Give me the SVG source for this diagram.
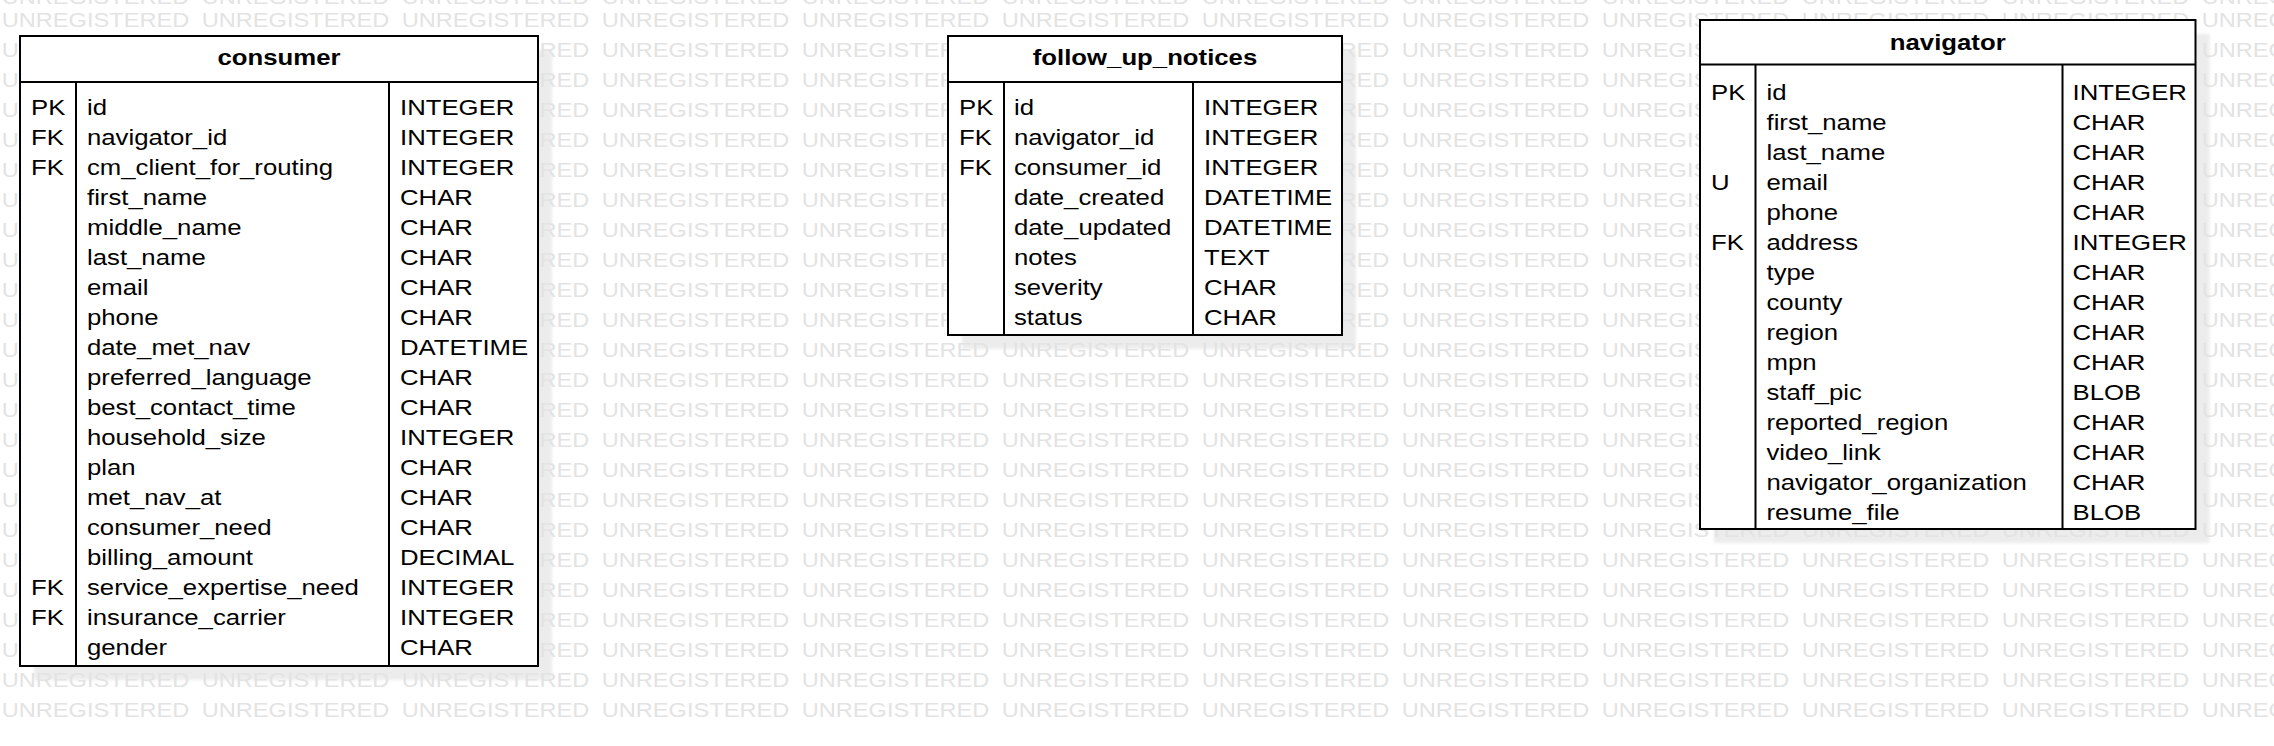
<svg xmlns="http://www.w3.org/2000/svg" xmlns:xlink="http://www.w3.org/1999/xlink" width="2274" height="746" viewBox="0 0 2274 746">
<style>
  text { font-family: "Liberation Sans", Arial, sans-serif; fill: #000; }
  .t { font-size: 22px; }
  .title { font-size: 22px; font-weight: bold; text-anchor: middle; }
  .wm text { font-size: 20.2px; fill: #e3e3e3; }
  .box { fill: #fff; stroke: #000; stroke-width: 2; }
  .ln { stroke: #000; stroke-width: 2; fill: none; }
  .sh { fill: #ececec; filter: url(#blur); }
</style>
<defs>
  <filter id="blur" x="-5%" y="-5%" width="110%" height="110%"><feGaussianBlur stdDeviation="1.5"/></filter>
  <g id="wmrow" class="wm" transform="scale(1.17 1)">
    <text x="1.45">UNREGISTERED</text>
    <text x="172.39">UNREGISTERED</text>
    <text x="343.33">UNREGISTERED</text>
    <text x="514.27">UNREGISTERED</text>
    <text x="685.21">UNREGISTERED</text>
    <text x="856.15">UNREGISTERED</text>
    <text x="1027.09">UNREGISTERED</text>
    <text x="1198.03">UNREGISTERED</text>
    <text x="1368.97">UNREGISTERED</text>
    <text x="1539.91">UNREGISTERED</text>
    <text x="1710.85">UNREGISTERED</text>
    <text x="1881.79">UNREGISTERED</text>
  </g>
</defs>
<rect x="0" y="0" width="2274" height="746" fill="#fff"/>
<g id="shadows">
  <rect class="sh" x="34" y="50" width="518" height="630"/>
  <rect class="sh" x="962" y="50" width="394" height="299"/>
  <rect class="sh" x="1714" y="34" width="495.5" height="509"/>
</g>
<g id="watermark">
  <use xlink:href="#wmrow" y="3.8"/>
  <use xlink:href="#wmrow" y="27.3"/>
  <use xlink:href="#wmrow" y="57.3"/>
  <use xlink:href="#wmrow" y="87.3"/>
  <use xlink:href="#wmrow" y="117.3"/>
  <use xlink:href="#wmrow" y="147.3"/>
  <use xlink:href="#wmrow" y="177.3"/>
  <use xlink:href="#wmrow" y="207.3"/>
  <use xlink:href="#wmrow" y="237.3"/>
  <use xlink:href="#wmrow" y="267.3"/>
  <use xlink:href="#wmrow" y="297.3"/>
  <use xlink:href="#wmrow" y="327.3"/>
  <use xlink:href="#wmrow" y="357.3"/>
  <use xlink:href="#wmrow" y="387.3"/>
  <use xlink:href="#wmrow" y="417.3"/>
  <use xlink:href="#wmrow" y="447.3"/>
  <use xlink:href="#wmrow" y="477.3"/>
  <use xlink:href="#wmrow" y="507.3"/>
  <use xlink:href="#wmrow" y="537.3"/>
  <use xlink:href="#wmrow" y="567.3"/>
  <use xlink:href="#wmrow" y="597.3"/>
  <use xlink:href="#wmrow" y="627.3"/>
  <use xlink:href="#wmrow" y="657.3"/>
  <use xlink:href="#wmrow" y="687.3"/>
  <use xlink:href="#wmrow" y="717.3"/>
</g>
<g id="connectors"></g>
<g id="consumer">
  <rect class="box" x="20" y="36" width="518" height="630"/>
  <line class="ln" x1="20" y1="82" x2="538" y2="82"/>
  <line class="ln" x1="76" y1="82" x2="76" y2="666"/>
  <line class="ln" x1="389" y1="82" x2="389" y2="666"/>
  <g transform="translate(279 0) scale(1.17 1)"><text class="title" x="0" y="65">consumer</text></g>
  <g transform="translate(31 0) scale(1.17 1)"><text class="t">
    <tspan x="0" y="115">PK</tspan><tspan x="0" y="145">FK</tspan><tspan x="0" y="175">FK</tspan>
    <tspan x="0" y="595">FK</tspan><tspan x="0" y="625">FK</tspan></text></g>
  <g transform="translate(87 0) scale(1.17 1)"><text class="t">
    <tspan x="0" y="115">id</tspan>
    <tspan x="0" y="145">navigator_id</tspan>
    <tspan x="0" y="175">cm_client_for_routing</tspan>
    <tspan x="0" y="205">first_name</tspan>
    <tspan x="0" y="235">middle_name</tspan>
    <tspan x="0" y="265">last_name</tspan>
    <tspan x="0" y="295">email</tspan>
    <tspan x="0" y="325">phone</tspan>
    <tspan x="0" y="355">date_met_nav</tspan>
    <tspan x="0" y="385">preferred_language</tspan>
    <tspan x="0" y="415">best_contact_time</tspan>
    <tspan x="0" y="445">household_size</tspan>
    <tspan x="0" y="475">plan</tspan>
    <tspan x="0" y="505">met_nav_at</tspan>
    <tspan x="0" y="535">consumer_need</tspan>
    <tspan x="0" y="565">billing_amount</tspan>
    <tspan x="0" y="595">service_expertise_need</tspan>
    <tspan x="0" y="625">insurance_carrier</tspan>
    <tspan x="0" y="655">gender</tspan></text></g>
  <g transform="translate(400 0) scale(1.17 1)"><text class="t">
    <tspan x="0" y="115">INTEGER</tspan>
    <tspan x="0" y="145">INTEGER</tspan>
    <tspan x="0" y="175">INTEGER</tspan>
    <tspan x="0" y="205">CHAR</tspan>
    <tspan x="0" y="235">CHAR</tspan>
    <tspan x="0" y="265">CHAR</tspan>
    <tspan x="0" y="295">CHAR</tspan>
    <tspan x="0" y="325">CHAR</tspan>
    <tspan x="0" y="355">DATETIME</tspan>
    <tspan x="0" y="385">CHAR</tspan>
    <tspan x="0" y="415">CHAR</tspan>
    <tspan x="0" y="445">INTEGER</tspan>
    <tspan x="0" y="475">CHAR</tspan>
    <tspan x="0" y="505">CHAR</tspan>
    <tspan x="0" y="535">CHAR</tspan>
    <tspan x="0" y="565">DECIMAL</tspan>
    <tspan x="0" y="595">INTEGER</tspan>
    <tspan x="0" y="625">INTEGER</tspan>
    <tspan x="0" y="655">CHAR</tspan></text></g>
</g>
<g id="follow_up_notices">
  <rect class="box" x="948" y="36" width="394" height="299"/>
  <line class="ln" x1="948" y1="82" x2="1342" y2="82"/>
  <line class="ln" x1="1004" y1="82" x2="1004" y2="335"/>
  <line class="ln" x1="1193" y1="82" x2="1193" y2="335"/>
  <g transform="translate(1145 0) scale(1.17 1)"><text class="title" x="0" y="65">follow_up_notices</text></g>
  <g transform="translate(959 0) scale(1.17 1)"><text class="t">
    <tspan x="0" y="115">PK</tspan><tspan x="0" y="145">FK</tspan><tspan x="0" y="175">FK</tspan></text></g>
  <g transform="translate(1014 0) scale(1.17 1)"><text class="t">
    <tspan x="0" y="115">id</tspan>
    <tspan x="0" y="145">navigator_id</tspan>
    <tspan x="0" y="175">consumer_id</tspan>
    <tspan x="0" y="205">date_created</tspan>
    <tspan x="0" y="235">date_updated</tspan>
    <tspan x="0" y="265">notes</tspan>
    <tspan x="0" y="295">severity</tspan>
    <tspan x="0" y="325">status</tspan></text></g>
  <g transform="translate(1204 0) scale(1.17 1)"><text class="t">
    <tspan x="0" y="115">INTEGER</tspan>
    <tspan x="0" y="145">INTEGER</tspan>
    <tspan x="0" y="175">INTEGER</tspan>
    <tspan x="0" y="205">DATETIME</tspan>
    <tspan x="0" y="235">DATETIME</tspan>
    <tspan x="0" y="265">TEXT</tspan>
    <tspan x="0" y="295">CHAR</tspan>
    <tspan x="0" y="325">CHAR</tspan></text></g>
</g>
<g id="navigator">
  <rect class="box" x="1700" y="20" width="495.5" height="509"/>
  <line class="ln" x1="1700" y1="64.5" x2="2195.5" y2="64.5"/>
  <line class="ln" x1="1755.5" y1="64.5" x2="1755.5" y2="529"/>
  <line class="ln" x1="2062.5" y1="64.5" x2="2062.5" y2="529"/>
  <g transform="translate(1947.75 0) scale(1.17 1)"><text class="title" x="0" y="50">navigator</text></g>
  <g transform="translate(1711 0) scale(1.17 1)"><text class="t">
    <tspan x="0" y="100">PK</tspan><tspan x="0" y="190">U</tspan><tspan x="0" y="250">FK</tspan></text></g>
  <g transform="translate(1766.5 0) scale(1.17 1)"><text class="t">
    <tspan x="0" y="100">id</tspan>
    <tspan x="0" y="130">first_name</tspan>
    <tspan x="0" y="160">last_name</tspan>
    <tspan x="0" y="190">email</tspan>
    <tspan x="0" y="220">phone</tspan>
    <tspan x="0" y="250">address</tspan>
    <tspan x="0" y="280">type</tspan>
    <tspan x="0" y="310">county</tspan>
    <tspan x="0" y="340">region</tspan>
    <tspan x="0" y="370">mpn</tspan>
    <tspan x="0" y="400">staff_pic</tspan>
    <tspan x="0" y="430">reported_region</tspan>
    <tspan x="0" y="460">video_link</tspan>
    <tspan x="0" y="490">navigator_organization</tspan>
    <tspan x="0" y="520">resume_file</tspan></text></g>
  <g transform="translate(2072.5 0) scale(1.17 1)"><text class="t">
    <tspan x="0" y="100">INTEGER</tspan>
    <tspan x="0" y="130">CHAR</tspan>
    <tspan x="0" y="160">CHAR</tspan>
    <tspan x="0" y="190">CHAR</tspan>
    <tspan x="0" y="220">CHAR</tspan>
    <tspan x="0" y="250">INTEGER</tspan>
    <tspan x="0" y="280">CHAR</tspan>
    <tspan x="0" y="310">CHAR</tspan>
    <tspan x="0" y="340">CHAR</tspan>
    <tspan x="0" y="370">CHAR</tspan>
    <tspan x="0" y="400">BLOB</tspan>
    <tspan x="0" y="430">CHAR</tspan>
    <tspan x="0" y="460">CHAR</tspan>
    <tspan x="0" y="490">CHAR</tspan>
    <tspan x="0" y="520">BLOB</tspan></text></g>
</g>
</svg>
